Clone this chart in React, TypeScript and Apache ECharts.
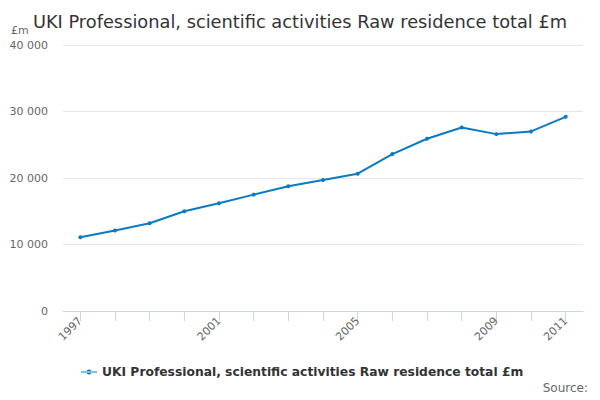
import React, { useEffect, useRef } from "react";
import * as echarts from "echarts";

const years = ["1997","1998","1999","2000","2001","2002","2003","2004","2005","2006","2007","2008","2009","2010","2011"];
const values = [11100, 12100, 13200, 15000, 16200, 17500, 18750, 19700, 20650, 23600, 25900, 27600, 26600, 27000, 29200];
const seriesName = "UKI Professional, scientific activities Raw residence total £m";
const titleText = "UKI Professional, scientific activities Raw residence total £m";

function fmt(v: number): string {
  return String(v).replace(/\B(?=(\d{3})+(?!\d))/g, " ");
}

export default function App() {
  const ref = useRef<HTMLDivElement>(null);
  useEffect(() => {
    document.body.style.margin = "0";
    if (!ref.current) return;
    const chart = echarts.init(ref.current, undefined, { renderer: "svg" });
    const font = "DejaVu Sans, Verdana, sans-serif";
    chart.setOption({
      animation: false,
      textStyle: { fontFamily: font },
      title: {
        text: titleText,
        left: "center",
        top: 7,
        textStyle: { fontSize: 17.8, fontWeight: "normal", color: "#333333", fontFamily: font },
      },
      graphic: [
        { type: "text", left: 11, top: 25, style: { text: "£m", fontSize: 11, fill: "#666666", fontFamily: font } },
        { type: "text", right: 12, top: 382, style: { text: "Source:", fontSize: 12, fill: "#666666", fontFamily: font } },
      ],
      legend: {
        bottom: 17,
        left: 76,
        itemWidth: 16,
        itemHeight: 5,
        itemGap: 6,
        icon: "path://M0,2.4 L16,2.4 L16,3.6 L0,3.6 Z M5.5,3 A2.5,2.5 0 1,0 10.5,3 A2.5,2.5 0 1,0 5.5,3 Z",
        textStyle: { fontSize: 12.3, fontWeight: "bold", color: "#333333", fontFamily: font },
        data: [seriesName],
      },
      grid: { left: 63, right: 17, top: 45, bottom: 89, containLabel: false },
      xAxis: {
        type: "category",
        data: years,
        boundaryGap: true,
        axisLine: { lineStyle: { color: "#ccd6eb" } },
        axisTick: { show: true, alignWithLabel: true, length: 10, lineStyle: { color: "#ccd6eb" }, interval: 0 },
        axisLabel: {
          rotate: 45,
          color: "#666666",
          fontSize: 11,
          margin: 8,
          interval: (i: number) => i % 4 === 0 || i === years.length - 1,
        },
      },
      yAxis: {
        type: "value",
        min: 0,
        max: 40000,
        interval: 10000,
        axisLine: { show: false },
        axisTick: { show: false },
        splitLine: { lineStyle: { color: "#e6e6e6" } },
        axisLabel: { color: "#666666", fontSize: 11, margin: 15, formatter: (v: number) => fmt(v) },
      },
      series: [
        {
          name: seriesName,
          type: "line",
          data: values,
          symbol: "circle",
          symbolSize: 4,
          lineStyle: { color: "#0a7bc2", width: 2 },
          itemStyle: { color: "#0a7bc2" },
        },
      ],
    });
    return () => chart.dispose();
  }, []);
  return <div ref={ref} style={{ width: 600, height: 400 }} />;
}
